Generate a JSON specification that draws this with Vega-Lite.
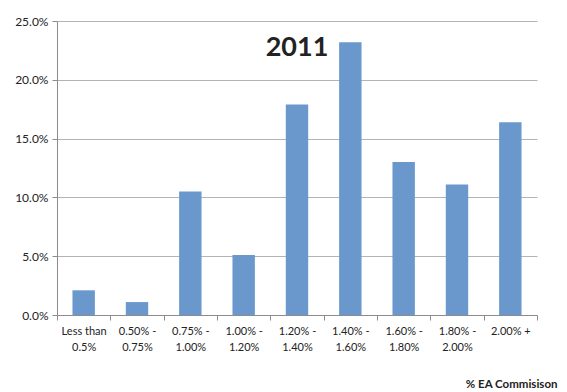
{
  "$schema": "https://vega.github.io/schema/vega-lite/v6.json",
  "autosize": "none",
  "width": 480,
  "height": 294,
  "padding": {"left": 57, "top": 21, "right": 30, "bottom": 77},
  "background": "white",
  "config": {
    "font": "Lato",
    "view": {"stroke": null},
    "axis": {"labelFont": "Lato", "titleFont": "Lato", "labelColor": "#222", "titleColor": "#222"}
  },
  "datasets": {
    "bars": [
      {"range": "Less than|0.5%", "share": 0.021},
      {"range": "0.50% -|0.75%", "share": 0.011},
      {"range": "0.75% -|1.00%", "share": 0.105},
      {"range": "1.00% -|1.20%", "share": 0.051},
      {"range": "1.20% -|1.40%", "share": 0.179},
      {"range": "1.40% -|1.60%", "share": 0.232},
      {"range": "1.60% -|1.80%", "share": 0.130},
      {"range": "1.80%  -|2.00%", "share": 0.111},
      {"range": "2.00% +", "share": 0.164}
    ],
    "label": [
      {"range": "1.20% -|1.40%", "share": 0.227, "text": "2011"}
    ]
  },
  "encoding": {
    "x": {
      "field": "range", "type": "nominal", "sort": null,
      "scale": {"paddingInner": 0, "paddingOuter": 0},
      "axis": {
        "labelAngle": 0,
        "labelExpr": "split(datum.label, '|')",
        "labelFontSize": 11,
        "labelLineHeight": 16,
        "labelPadding": 5,
        "labelBaseline": "top",
        "tickBand": "extent",
        "tickSize": 5,
        "tickColor": "#8c8c8c",
        "domainColor": "#8c8c8c",
        "title": "% EA Commisison",
        "titleFontSize": 11.5,
        "titleFontWeight": "bold",
        "titleAnchor": "end",
        "titleAlign": "right",
        "titleX": 500,
        "titleY": 63,
        "labelLimit": 0
      }
    },
    "y": {
      "field": "share", "type": "quantitative",
      "scale": {"domain": [0, 0.25], "nice": false},
      "axis": {
        "format": ".1%",
        "values": [0, 0.05, 0.1, 0.15, 0.2, 0.25],
        "labelFontSize": 12,
        "labelPadding": 4,
        "tickSize": 5,
        "tickColor": "#8c8c8c",
        "domainColor": "#8c8c8c",
        "gridColor": "#b3b3b3",
        "title": null
      }
    }
  },
  "layer": [
    {
      "data": {"name": "bars"},
      "mark": {"type": "bar", "color": "#6a98cd", "width": {"band": 0.42}}
    },
    {
      "data": {"name": "label"},
      "mark": {"type": "text", "fontSize": 27, "fontWeight": "bold", "color": "#222", "baseline": "middle"},
      "encoding": {
        "text": {"field": "text"}
      }
    }
  ]
}
